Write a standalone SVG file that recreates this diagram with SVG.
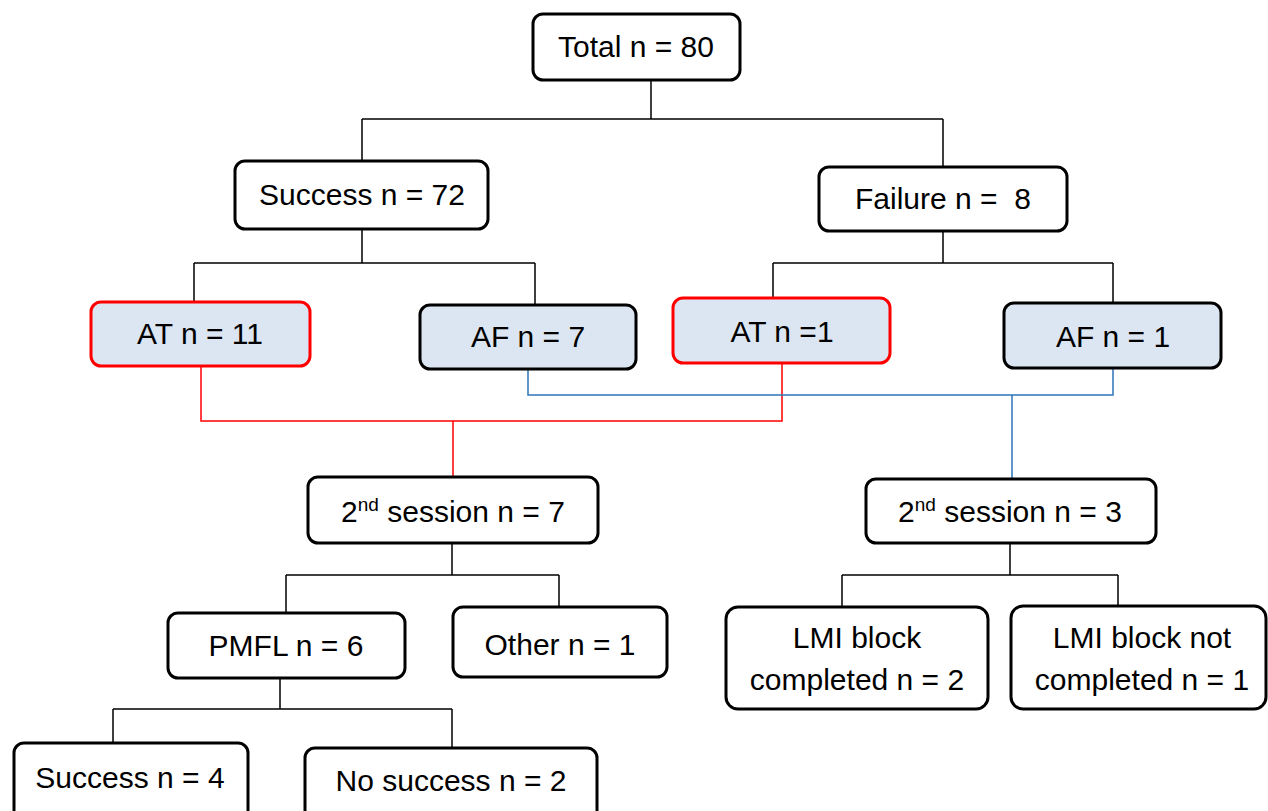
<svg xmlns="http://www.w3.org/2000/svg" width="1268" height="811" viewBox="0 0 1268 811">
<style>
.box{fill:#ffffff;stroke:#000000;stroke-width:3}
.hl{fill:#dce6f2;stroke:#000000;stroke-width:3}
.red{fill:#dce6f2;stroke:#ff0000;stroke-width:3}
.t{font-family:"Liberation Sans",Arial,sans-serif;font-size:30px;fill:#000000;text-anchor:middle}
.c{fill:none;stroke:#000000;stroke-width:1.5}
.cr{fill:none;stroke:#ff0000;stroke-width:1.5}
.cb{fill:none;stroke:#2e75b6;stroke-width:1.5}
</style>
<rect width="1268" height="811" fill="#ffffff"/>
<g id="connectors">
<path class="c" d="M651 80V119M362 119H943M362 119V161M943 119V167"/>
<path class="c" d="M362 229V263M194 263H535M194 263V302M535 263V305"/>
<path class="c" d="M943 231V263M773 263H1113M773 263V298M1113 263V303"/>
<path class="cr" d="M201 366V421H782V363M453 421V477"/>
<path class="cb" d="M528 369V395H1113V368M1012 395V479"/>
<path class="c" d="M452 543V575M286 575H559M286 575V613M559 575V607"/>
<path class="c" d="M1010 543V575M842 575H1118M842 575V607M1118 575V606"/>
<path class="c" d="M280 678V709M113 709H452M113 709V743M452 709V748"/>
</g>
<g id="total"><rect class="box" x="533" y="14" width="207" height="66" rx="10"/><text class="t" x="636" y="57">Total n = 80</text></g>
<g id="success"><rect class="box" x="235" y="161" width="253" height="68" rx="10"/><text class="t" x="362" y="205">Success n = 72</text></g>
<g id="failure"><rect class="box" x="819" y="167" width="248" height="64" rx="10"/><text class="t" x="943" y="209" xml:space="preserve">Failure n =  8</text></g>
<g id="at11"><rect class="red" x="91" y="302" width="219" height="64" rx="10"/><text class="t" x="200" y="344">AT n = 11</text></g>
<g id="af7"><rect class="hl" x="420" y="305" width="216" height="64" rx="10"/><text class="t" x="528" y="347">AF n = 7</text></g>
<g id="at1"><rect class="red" x="673" y="298" width="217" height="65" rx="10"/><text class="t" x="782" y="342">AT n =1</text></g>
<g id="af1"><rect class="hl" x="1004" y="303" width="217" height="65" rx="10"/><text class="t" x="1113" y="347">AF n = 1</text></g>
<g id="session7"><rect class="box" x="308" y="477" width="290" height="66" rx="10"/><text class="t" x="453" y="522">2<tspan font-size="19" dy="-11">nd</tspan><tspan dy="11"> session n = 7</tspan></text></g>
<g id="session3"><rect class="box" x="866" y="479" width="290" height="64" rx="10"/><text class="t" x="1010" y="522">2<tspan font-size="19" dy="-11">nd</tspan><tspan dy="11"> session n = 3</tspan></text></g>
<g id="pmfl"><rect class="box" x="168" y="613" width="237" height="65" rx="10"/><text class="t" x="286" y="656">PMFL n = 6</text></g>
<g id="other"><rect class="box" x="453" y="607" width="214" height="70" rx="10"/><text class="t" x="560" y="655">Other n = 1</text></g>
<g id="lmi-completed"><rect class="box" x="726" y="607" width="262" height="102" rx="12"/><text class="t" x="857" y="648">LMI block</text><text class="t" x="857" y="690">completed n = 2</text></g>
<g id="lmi-not"><rect class="box" x="1011" y="606" width="255" height="103" rx="12"/><text class="t" x="1142" y="648">LMI block not</text><text class="t" x="1142" y="690">completed n = 1</text></g>
<g id="success4"><rect class="box" x="14" y="743" width="234" height="80" rx="10"/><text class="t" x="130" y="788">Success n = 4</text></g>
<g id="nosuccess"><rect class="box" x="305" y="748" width="292" height="80" rx="10"/><text class="t" x="451" y="791">No success n = 2</text></g>
</svg>
